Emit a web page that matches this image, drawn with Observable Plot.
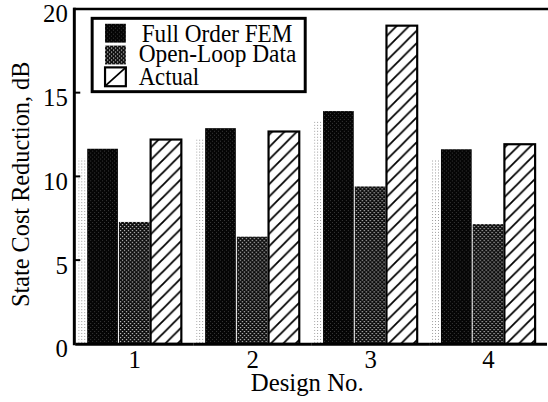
<!DOCTYPE html>
<html>
<head>
<meta charset="utf-8">
<script src="https://cdn.jsdelivr.net/npm/d3@7"></script>
<script src="https://cdn.jsdelivr.net/npm/@observablehq/plot@0.6"></script>
<style>
  html, body { margin: 0; padding: 0; background: #fff; overflow: hidden; }
  #chart { width: 548px; height: 402px; overflow: hidden; position: relative; }
</style>
</head>
<body>
<div id="chart"></div>
<script>
// ---- data ----
const designs = [1, 2, 3, 4];
const series = ["Full Order FEM", "Open-Loop Data", "Actual"];
const fullOrderFEM = [11.65, 12.88, 13.9, 11.62];
const openLoopData = [7.28, 6.4, 9.4, 7.15];
const actual = [12.2, 12.68, 19.0, 11.92];
const yTicks = [0, 5, 10, 15, 20];
const yLabel = "State Cost Reduction, dB";
const xLabel = "Design No.";

const seriesValues = [fullOrderFEM, openLoopData, actual];
const rows = designs.flatMap((d, i) =>
  series.map((s, j) => ({ design: d, series: s, value: seriesValues[j][i] }))
);
const fills = ["url(#pFull)", "url(#pOpen)", "url(#pAct)"];

const FONT = "Liberation Serif, Times New Roman, serif";

const chart = Plot.plot({
  width: 553,
  height: 402,
  marginLeft: 75,
  marginRight: 0,
  marginTop: 9,
  marginBottom: 55,
  style: { fontFamily: FONT, fontSize: "24px", color: "#000", background: "#fff", overflow: "visible" },
  fx: { domain: designs, padding: 0, label: null },
  x: { domain: series, paddingInner: 0.04, paddingOuter: 0.353, axis: null },
  y: { domain: [0, 20], axis: null },
  marks: [
    // faint print halo to the left of the dark bars
    Plot.barY(rows.filter(d => d.series === series[0]), { fx: "design", x: "series", y: "value", fill: "url(#pHalo)", dx: -9, insetTop: 10 }),
    Plot.barY(rows.filter(d => d.series === series[0]), { fx: "design", x: "series", y: "value", fill: fills[0] }),
    Plot.barY(rows.filter(d => d.series === series[1]), { fx: "design", x: "series", y: "value", fill: fills[1] }),
    Plot.barY(rows.filter(d => d.series === series[2]), { fx: "design", x: "series", y: "value", fill: fills[2], stroke: "#000", strokeWidth: 2.2 }),
    Plot.ruleY([0], { stroke: "#000", strokeWidth: 3 }),
    Plot.axisY({ ticks: yTicks, tickSize: 0, tickPadding: 8, label: null, fontSize: 25, dy: 5, tickFormat: d => String(d) }),
    Plot.axisFx({ anchor: "bottom", tickSize: 0, tickPadding: 6, label: null, fontSize: 25 })
  ]
});

document.getElementById("chart").appendChild(chart);

const svg = d3.select(chart);
const y = chart.scale("y");

// pattern definitions
const defs = svg.insert("defs", ":first-child");
const pFull = defs.append("pattern").attr("id", "pFull").attr("patternUnits", "userSpaceOnUse").attr("width", 4).attr("height", 4);
pFull.append("rect").attr("width", 4).attr("height", 4).attr("fill", "#050505");
pFull.append("rect").attr("x", 0).attr("y", 0).attr("width", 1).attr("height", 1).attr("fill", "#3a3a3a");
pFull.append("rect").attr("x", 2).attr("y", 2).attr("width", 1).attr("height", 1).attr("fill", "#3a3a3a");

const pOpen = defs.append("pattern").attr("id", "pOpen").attr("patternUnits", "userSpaceOnUse").attr("width", 4).attr("height", 4);
pOpen.append("rect").attr("width", 4).attr("height", 4).attr("fill", "#0a0a0a");
pOpen.append("rect").attr("x", 0).attr("y", 0).attr("width", 1.2).attr("height", 1.2).attr("fill", "#d8d8d8");
pOpen.append("rect").attr("x", 2).attr("y", 2).attr("width", 1.2).attr("height", 1.2).attr("fill", "#d8d8d8");

const pHalo = defs.append("pattern").attr("id", "pHalo").attr("patternUnits", "userSpaceOnUse").attr("width", 3).attr("height", 3);
pHalo.append("rect").attr("width", 3).attr("height", 3).attr("fill", "#fff");
pHalo.append("rect").attr("x", 0).attr("y", 0).attr("width", 1).attr("height", 1).attr("fill", "#9a9a9a");

const pAct = defs.append("pattern").attr("id", "pAct").attr("patternUnits", "userSpaceOnUse").attr("width", 12.5).attr("height", 12.5);
pAct.append("rect").attr("width", 12.5).attr("height", 12.5).attr("fill", "#fff");
pAct.append("path").attr("d", "M-2,14.5 L14.5,-2 M-4,4 L4,-4 M8.5,16.5 L16.5,8.5").attr("stroke", "#000").attr("stroke-width", 1.8);

// frame lines: left axis and top border
svg.append("line")
  .attr("x1", 75).attr("x2", 75)
  .attr("y1", y.apply(20) - 1.2).attr("y2", y.apply(0) + 1.5)
  .attr("stroke", "#000").attr("stroke-width", 3);
svg.append("line")
  .attr("x1", 74).attr("x2", 553)
  .attr("y1", y.apply(20)).attr("y2", y.apply(20))
  .attr("stroke", "#000").attr("stroke-width", 2.5);
// inward tick marks from the y scale
svg.append("g").selectAll("line").data(yTicks.slice(1, -1)).join("line")
  .attr("x1", 75).attr("x2", 81)
  .attr("y1", d => y.apply(d)).attr("y2", d => y.apply(d))
  .attr("stroke", "#000").attr("stroke-width", 2);

// axis titles
svg.append("text")
  .attr("transform", `translate(29,${(y.apply(0) + y.apply(20)) / 2 + 8}) rotate(-90)`)
  .attr("text-anchor", "middle")
  .attr("font-family", FONT).attr("font-size", 24.5).attr("fill", "#000")
  .text(yLabel);
svg.append("text")
  .attr("x", 310).attr("y", 395)
  .attr("text-anchor", "middle")
  .attr("font-family", FONT).attr("font-size", 25).attr("fill", "#000")
  .text(xLabel);

// legend
const lg = svg.append("g").attr("text-anchor", "start");
lg.append("rect").attr("x", 93).attr("y", 18.5).attr("width", 215).attr("height", 74)
  .attr("fill", "#fff").attr("stroke", "#000").attr("stroke-width", 3);
const rowsY = [24, 46, 68];
const baseY = [42, 63, 86];
series.forEach((s, i) => {
  lg.append("rect").attr("x", 106).attr("y", rowsY[i]).attr("width", 21).attr("height", 19)
    .attr("fill", i === 2 ? "#fff" : fills[i])
    .attr("stroke", "#000").attr("stroke-width", i === 2 ? 2.2 : 0);
  if (i === 2) {
    lg.append("line").attr("x1", 106).attr("y1", rowsY[i] + 19).attr("x2", 127).attr("y2", rowsY[i])
      .attr("stroke", "#000").attr("stroke-width", 1.8);
  }
  lg.append("text").attr("x", i === 0 ? 143 : 140).attr("y", baseY[i])
    .attr("text-anchor", "start")
    .attr("font-family", FONT).attr("font-size", 25.5).attr("fill", "#000")
    .attr("textLength", i === 0 ? 152 : i === 1 ? 159 : 61).attr("lengthAdjust", "spacingAndGlyphs")
    .text(s);
});
</script>
</body>
</html>
